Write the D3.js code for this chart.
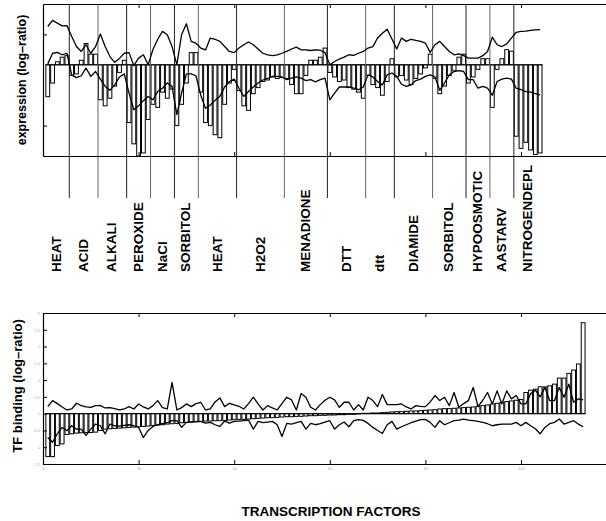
<!DOCTYPE html>
<html>
<head>
<meta charset="utf-8">
<script src="https://cdn.jsdelivr.net/npm/d3@7"></script>
<style>
  body { margin: 0; background: #fff; }
  text { font-family: "Liberation Sans", Arial, Helvetica, sans-serif; }
</style>
</head>
<body>
<div id="chart"></div>
<script>
// conditions of the expression panel, and how many arrays each one has
var conditions = ['HEAT', 'ACID', 'ALKALI', 'PEROXIDE', 'NaCl', 'SORBITOL', 'HEAT', 'H2O2', 'MENADIONE',
    'DTT', 'dtt', 'DIAMIDE', 'SORBITOL', 'HYPOOSMOTIC', 'AASTARV', 'NITROGENDEPL']
var conditionSizes = [5, 6, 6, 5, 5, 5, 8, 10, 9, 8, 6, 8, 7, 5, 5, 6]

// expression (log-ratio), one value per array
var exprBars = [-1.05, -0.6, 0.1, 0.25, 0.3,
    -0.35, -0.3, 0.15, 0.7, 0.35, 0.35,
    -1.15, -1.35, -1.1, -0.7, -0.25, 0.15,
    -1.9, -2.6, -3.0, -2.9, -1.8,
    -1.3, -1.4, -0.9, -1.1, -0.8,
    -2.0, -1.3, -0.6, 0.4, 0.4,
    -0.9, -1.9, -2.0, -2.3, -2.4, -1.3, -0.6, -0.15,
    -0.85, -1.35, -1.5, -0.95, -0.75, -0.55, -0.5, -0.4, -0.45, -0.42,
    -0.45, -0.65, -0.95, -0.95, -0.35, 0.15, 0.15, 0.25, 0.55,
    -0.25, -0.4, -0.55, -0.5, -0.75, -0.8, -0.9, -1.1,
    -0.35, -0.65, -0.75, -1.0, -0.55, 0.2,
    -0.4, -0.35, -0.5, -0.65, -0.45, -0.3, -0.1, 0.35,
    -0.45, -0.95, -0.7, -0.35, -0.2, 0.25, 0.35,
    -0.6, -0.4, -0.15, 0.2, 0.2,
    -1.4, -0.15, 0.2, 0.5, 0.45,
    -2.35, -2.75, -2.55, -2.8, -2.95, -2.9]
var exprUpper = [1.26, 1.46, 1.37, 1.28, 1.29, 0.93, 0.6, 0.44, 0.66, 0.38, 0.6, 1.01, 0.6, 0.27, 0.08, 0.21,
    0.38, 0.4, -0.03, 0.22, 0.33, 0.0, 0.5, 0.84, 1.1, 0.99, 0.6, 0.0, 1.0, 1.35, 0.77, 0.71,
    0.55, 0.49, 0.88, 0.84, 0.77, 0.6, 0.44, 0.4, 0.55, 0.66, 0.75, 0.66, 0.52, 0.38, 0.33, 0.3,
    0.33, 0.38, 0.44, 0.52, 0.58, 0.49, 0.49, 0.47, 0.49, 0.48, 0.4, 0.0, 0.11, 0.19, 0.25, 0.33,
    0.31, 0.38, 0.44, 0.55, 0.6, 0.88, 1.04, 1.17, 0.85, 0.52,
    0.88, 0.77, 0.84, 0.8, 0.77, 0.71, 0.41, 0.66, 0.77, 0.6, 0.44, 0.33, 0.36, 0.3, 0.22, 0.22,
    0.22, 0.3, 0.44, 0.91, 0.66, 0.6, 0.69, 0.88, 1.07, 1.1, 1.11, 1.13, 1.15, 1.16]
var exprLower = [0.03, 0.38, 0.41, 0.33, 0.38, -0.33, -0.42, -0.36, -0.11, -0.38, -0.22, -0.47, -0.71, -0.84,
    -0.66, -0.4, -0.3, -0.93, -1.48, -1.35, -1.18, -1.04, -1.15, -0.88, -0.77, -0.6, -0.71, -1.64,
    -0.93, -0.3, -0.3, -0.36,
    -1.0, -1.43, -1.32, -1.17, -1.04, -0.73, -0.55, -0.47, -0.77, -1.04, -0.88, -0.73, -0.6, -0.5,
    -0.45, -0.38, -0.38, -0.4, -0.49, -0.44, -0.4, -0.44, -0.52, -0.49, -0.56, -0.49, -0.44, -1.15,
    -0.93, -0.73, -0.73, -0.73, -0.77, -0.82, -0.73, -0.33, -0.4, -0.55, -0.66, -0.33, -0.27, -0.38,
    -0.64, -0.71, -0.66, -0.52, -0.47, -0.38, -0.33, -0.4, -0.84, -0.6, -0.33, -0.22, -0.19, -0.22,
    -0.49, -0.49, -0.77, -0.71, -0.77, -1.0, -0.55, -0.47, -0.44, -0.47, -0.77, -0.82, -0.88, -0.9,
    -0.95, -0.99]

// TF binding (log-ratio), sorted transcription factors
var tfBars = [-1.28, -1.28, -0.95, -0.9, -0.62, -0.6, -0.58, -0.57, -0.56, -0.56, -0.55, -0.5, -0.46,
    -0.45, -0.44, -0.43, -0.42, -0.41, -0.4, -0.39, -0.38, -0.37, -0.35, -0.34, -0.33, -0.31, -0.3,
    -0.29, -0.27, -0.26, -0.25, -0.24, -0.23, -0.22, -0.22, -0.21, -0.21, -0.2, -0.19, -0.18, -0.17,
    -0.17, -0.16, -0.15, -0.14, -0.13, -0.12, -0.12, -0.11, -0.1, -0.09, -0.09, -0.08, -0.08, -0.07,
    -0.06, -0.06, -0.05, -0.05, -0.04, -0.04, -0.03, -0.03, -0.02, -0.02, -0.01, 0.01, 0.01, 0.02,
    0.02, 0.03, 0.04, 0.05, 0.06, 0.06, 0.07, 0.08, 0.08, 0.09, 0.1, 0.11, 0.12, 0.14, 0.15, 0.15,
    0.16, 0.17, 0.18, 0.19, 0.2, 0.22, 0.24, 0.26, 0.29, 0.31, 0.34, 0.36, 0.38, 0.4, 0.42, 0.63,
    0.7, 0.73, 0.8, 0.8, 0.83, 0.88, 1.06, 1.06, 1.2, 1.3, 1.48, 2.71]
var tfUpper = [0.21, 0.39, 0.3, 0.2, 0.11, 0.14, 0.31, 0.24, 0.2, 0.19, 0.24, 0.24, 0.17, 0.18, 0.15,
    0.11, 0.14, 0.21, 0.14, 0.29, 0.2, 0.14, 0.24, 0.39, 0.18, 0.14, 0.93, 0.11, 0.18, 0.29, 0.21,
    0.3, 0.34, 0.11, 0.14, 0.35, 0.47, 0.21, 0.31, 0.26, 0.22, 0.14, 0.3, 0.49, 0.29, 0.11, 0.24,
    0.17, 0.11, 0.3, 0.49, 0.41, 0.11, 0.6, 0.49, 0.19, 0.11, 0.27, 0.4, 0.49, 0.41, 0.19, 0.34,
    0.34, 0.11, 0.27, 0.11, 0.49, 0.39, 0.21, 0.57, 0.27, 0.27, 0.27, 0.29,
    0.2, 0.14, 0.24, 0.22, 0.21, 0.35, 0.54, 0.39, 0.49, 0.24, 0.63, 0.19, 0.3, 0.39, 0.78, 0.21,
    0.4, 0.63, 0.29, 0.68, 0.29, 0.68, 0.44, 0.54, 0.29, 0.29, 0.59, 0.7, 0.5, 0.78, 0.39, 0.39,
    0.78, 0.49, 0.88, 0.34, 0.44, 0.41]
var tfLower = [-0.71, -0.85, -0.6, -0.41, -0.51, -0.36, -0.46, -0.46, -0.65, -0.46, -0.31, -0.36, -0.6,
    -0.31, -0.36, -0.37, -0.35, -0.33, -0.36, -0.41, -0.71, -0.5, -0.38, -0.33, -0.3, -0.27, -0.21,
    -0.21, -0.41, -0.26, -0.25,
    -0.24, -0.23, -0.28, -0.26, -0.33, -0.38, -0.22, -0.28, -0.23, -0.22, -0.21, -0.19, -0.46, -0.23,
    -0.27, -0.25, -0.23, -0.33, -0.68, -0.29, -0.31, -0.27, -0.23, -0.46, -0.29, -0.33, -0.3, -0.25,
    -0.21, -0.46, -0.33, -0.25, -0.39, -0.21, -0.18, -0.2, -0.29, -0.41, -0.5, -0.59, -0.33, -0.23,
    -0.46, -0.39,
    -0.33, -0.27, -0.22, -0.18, -0.17, -0.26, -0.41, -0.21, -0.33, -0.27, -0.21, -0.19, -0.16, -0.19,
    -0.21, -0.23, -0.26, -0.3, -0.36, -0.33, -0.31, -0.31, -0.31, -0.26, -0.36, -0.26, -0.36, -0.45,
    -0.6, -0.41, -0.3, -0.26, -0.16, -0.31, -0.26, -0.21, -0.31, -0.39]

// ticks
var xTicks = [0, 20, 40, 60, 80, 100]
var exprTicks = [-2, 1]
var tfTicks = [-1.5, -1, -0.5, 0, 0.5, 1, 1.5, 2, 2.5, 3]

var width = 606, height = 521

var svg = d3.select("#chart")
    .append("svg")
    .attr("width", width)
    .attr("height", height)

svg.append("rect").attr("width", width).attr("height", height).attr("fill", "#fff")

// shared x scale (array / TF index)
var x = d3.scaleLinear().domain([0, 120]).range([43, 616.6])
var barW = x(0.8) - x(0)

function drawBars(g, vals, y) {
    g.selectAll("rect.bar")
        .data(vals)
        .enter()
        .append("rect")
        .attr("class", "bar")
        .attr("x", function (d, i) { return x(i + 1) - barW / 2 })
        .attr("y", function (d) { return y(Math.max(0, d)) })
        .attr("width", barW)
        .attr("height", function (d) { return Math.abs(y(d) - y(0)) })
        .attr("fill", "#fff")
        .attr("stroke", "#000")
        .attr("stroke-width", 1)
    // baseline
    g.append("line")
        .attr("x1", x(0.5)).attr("x2", x(vals.length + 0.5))
        .attr("y1", y(0)).attr("y2", y(0))
        .attr("stroke", "#000").attr("stroke-width", 0.9)
}

function drawLine(g, vals, y) {
    var line = d3.line()
        .x(function (d, i) { return x(i + 1) })
        .y(function (d) { return y(d) })
    g.append("path")
        .datum(vals)
        .attr("fill", "none")
        .attr("stroke", "#000")
        .attr("stroke-width", 1.3)
        .attr("stroke-linejoin", "round")
        .attr("d", line)
}

function drawFrame(g, y, yTicks, yFormat, xFormat) {
    var r = y.range()
    g.append("g")
        .attr("transform", "translate(" + x(0) + ",0)")
        .call(d3.axisLeft(y).tickValues(yTicks).tickSize(-4).tickSizeOuter(0).tickFormat(yFormat))
    g.append("g")
        .attr("transform", "translate(0," + r[1] + ")")
        .call(d3.axisTop(x).tickValues(xTicks.slice(1)).tickSize(-4).tickSizeOuter(0).tickFormat(""))
    g.append("g")
        .attr("transform", "translate(0," + r[0] + ")")
        .call(d3.axisBottom(x).tickValues(xTicks).tickSize(-4).tickSizeOuter(0).tickFormat(xFormat))
    g.selectAll(".domain").attr("stroke", "#000").attr("stroke-width", 1.2)
    g.selectAll(".tick line").attr("stroke", "#000")
}

//////////
// EXPRESSION PANEL //
//////////
var yTop = d3.scaleLinear().domain([-3, 2]).range([156, 4])
var topG = svg.append("g")

drawBars(topG, exprBars, yTop)

// condition separators and labels
var ends = d3.cumsum(conditionSizes)
topG.selectAll("line.sep")
    .data(Array.from(ends).slice(0, -1))
    .enter()
    .append("line")
    .attr("class", "sep")
    .attr("x1", function (d) { return x(d + 0.5) })
    .attr("x2", function (d) { return x(d + 0.5) })
    .attr("y1", yTop(2))
    .attr("y2", 198)
    .attr("stroke", function (d, i) { return i % 2 ? "#666" : "#222" })
    .attr("stroke-width", 1)

topG.selectAll("text.cond")
    .data(conditions)
    .enter()
    .append("text")
    .attr("class", "cond")
    .attr("transform", function (d, i) {
        var c = ends[i] - (conditionSizes[i] - 1) / 2
        return "translate(" + x(c) + ",272) rotate(-90)"
    })
    .attr("dy", "0.3em")
    .style("font-size", "13.5px")
    .style("font-weight", "bold")
    .text(function (d) { return d })

drawLine(topG, exprUpper, yTop)
drawLine(topG, exprLower, yTop)
drawFrame(topG, yTop, exprTicks, "", "")

svg.append("text")
    .attr("transform", "translate(26,80) rotate(-90)")
    .attr("text-anchor", "middle")
    .style("font-size", "12.5px")
    .style("font-weight", "bold")
    .text("expression (log\u2013ratio)")

//////////
// TF BINDING PANEL //
//////////
var yBot = d3.scaleLinear().domain([-1.5, 3]).range([464, 313])
var botG = svg.append("g")

drawBars(botG, tfBars, yBot)
drawLine(botG, tfUpper, yBot)
drawLine(botG, tfLower, yBot)
drawFrame(botG, yBot, tfTicks, function (d) { return d }, function (d) { return d })

// the tick labels are tiny and faint in the original
botG.selectAll(".tick text")
    .attr("fill", "#aaa")
    .style("font-size", "4px")
    .style("font-family", "'Liberation Sans', Arial, sans-serif")

svg.append("text")
    .attr("transform", "translate(22,386) rotate(-90)")
    .attr("text-anchor", "middle")
    .style("font-size", "13px")
    .style("font-weight", "bold")
    .text("TF binding (log\u2013ratio)")

svg.append("text")
    .attr("x", 331)
    .attr("y", 516)
    .attr("text-anchor", "middle")
    .style("font-size", "13.5px")
    .style("font-weight", "bold")
    .text("TRANSCRIPTION FACTORS")
</script>
</body>
</html>
